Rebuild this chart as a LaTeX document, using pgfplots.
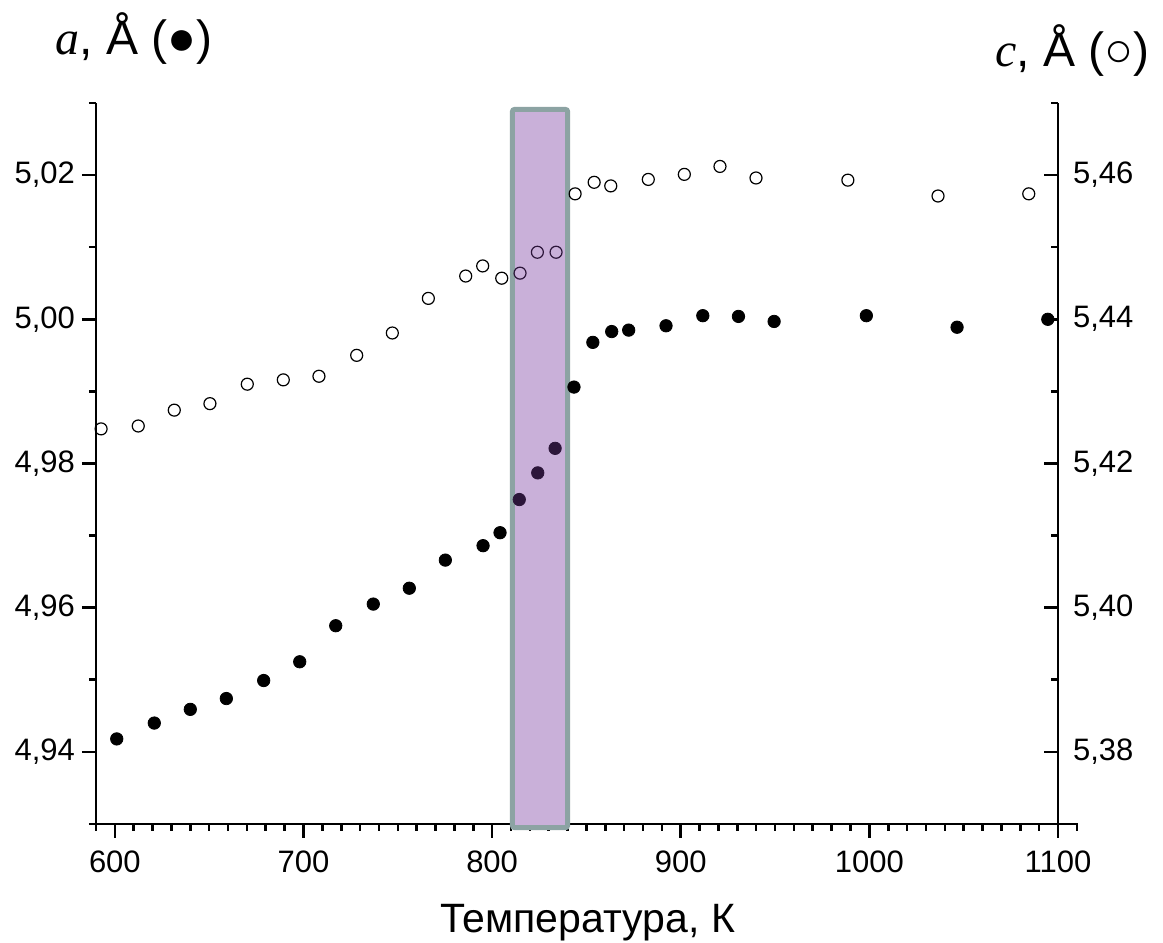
\documentclass[border=0pt]{standalone}
\usepackage{fontspec}
\setmainfont{Liberation Sans}
\newfontfamily\serifit{Liberation Serif}
\usepackage{pgfplots}
\pgfplotsset{compat=1.18}

\definecolor{boxfill}{RGB}{201,176,217}
\definecolor{boxedge}{RGB}{140,163,163}
\definecolor{inside}{RGB}{44,22,58}

\pgfplotsset{
  common/.style={
    scale only axis, width=481pt, height=360.5pt,
    at={(48pt,59.5pt)}, anchor=south west,
    xmin=590, xmax=1100,
    clip=false,
    axis line style={-, line width=1.3pt},
    every tick/.style={black, line width=1.3pt},
    major tick length=7pt, minor tick length=3.5pt,
    tick label style={font=\fontsize{15.5}{18}\selectfont},
    /pgf/number format/assume math mode=true,
    /pgf/number format/use comma,
    /pgf/number format/1000 sep={},
  },
}

\begin{document}
\begin{tikzpicture}
% a (left axis), filled circles
\begin{axis}[common,
  axis x line*=bottom, axis y line*=left,
  tick align=outside,
  ymin=4.93, ymax=5.03,
  xtick={600,700,800,900,1000,1100},
  minor xtick={590,600,...,1100},
  ytick={4.94,4.96,4.98,5.00,5.02},
  minor ytick={4.93,4.95,4.97,4.99,5.01,5.03},
  xticklabel style={yshift=-3pt},
  yticklabel style={/pgf/number format/fixed, /pgf/number format/fixed zerofill, /pgf/number format/precision=2},
]
\draw[line width=2.5pt, draw=boxedge, fill=boxfill, rounded corners=1pt]
  (axis cs:810.8,4.9295) rectangle (axis cs:840,5.0291);
\draw[line width=1.3pt] (axis cs:586.4,4.93) -- (axis cs:590,4.93);
\draw[line width=1.3pt] (axis cs:1100,4.93) -- (axis cs:1110.7,4.93);
\draw[line width=1.3pt] (axis cs:1110,4.93) -- (axis cs:1110,4.92903);
\addplot[only marks, mark=*, mark size=3.1pt, black] coordinates {
  (601.0,4.9418) (620.9,4.9440) (640.0,4.9459) (659.1,4.9474) (678.9,4.9499)
  (698.0,4.9525) (717.1,4.9575) (737.0,4.9605) (756.1,4.9627) (775.2,4.9666)
  (795.2,4.9686) (804.2,4.9704)
  (843.4,4.9906) (853.4,4.9968) (863.4,4.9983) (872.4,4.9985) (892.2,4.9991)
  (911.7,5.0005) (930.6,5.0004) (949.5,4.9997) (998.4,5.0005) (1046.5,4.9989)
  (1094.6,5.0000)
};
\addplot[only marks, mark=*, mark size=3.1pt, inside] coordinates {
  (814.4,4.9750) (824.2,4.9787) (833.4,4.9821)
};
\end{axis}

% c (right axis), open circles
\begin{axis}[common,
  axis x line=none, axis y line*=right,
  tick align=inside,
  ymin=5.37, ymax=5.47,
  ytick={5.38,5.40,5.42,5.44,5.46},
  minor ytick={5.37,5.39,5.41,5.43,5.45,5.47},
  yticklabel style={/pgf/number format/fixed, /pgf/number format/fixed zerofill, /pgf/number format/precision=2, xshift=4pt},
]
\addplot[only marks, mark=o, mark size=3pt, black, mark options={line width=0.6pt}] coordinates {
  (592.7,5.4248) (612.4,5.4252) (631.5,5.4274) (650.4,5.4283) (670.2,5.4310)
  (689.3,5.4316) (708.2,5.4321) (728.2,5.4350) (747.1,5.4381) (766.2,5.4429)
  (786.0,5.4460) (795.0,5.4474) (805.1,5.4457)
  (844.0,5.4574) (854.1,5.4590) (862.9,5.4585) (882.8,5.4594) (901.9,5.4601)
  (920.8,5.4612) (939.9,5.4596) (988.6,5.4593) (1036.4,5.4571) (1084.5,5.4574)
};
\addplot[only marks, mark=o, mark size=3pt, inside, mark options={line width=0.6pt}] coordinates {
  (814.8,5.4464) (824.0,5.4493) (833.9,5.4493)
};
\end{axis}

\node[anchor=base, font=\fontsize{20.5}{24}\selectfont] at (293.75pt,5pt) {Температура, К};
\node[anchor=base, font=\fontsize{24}{28}\selectfont] at (67pt,444pt) {{\serifit\itshape a}, Å (●)};
\node[anchor=base, font=\fontsize{24}{28}\selectfont] at (536.25pt,438.2pt) {{\serifit\itshape c}, Å (○)};

\pgfresetboundingbox
\path (0,0) rectangle (581.5pt,471.5pt);
\end{tikzpicture}
\end{document}
